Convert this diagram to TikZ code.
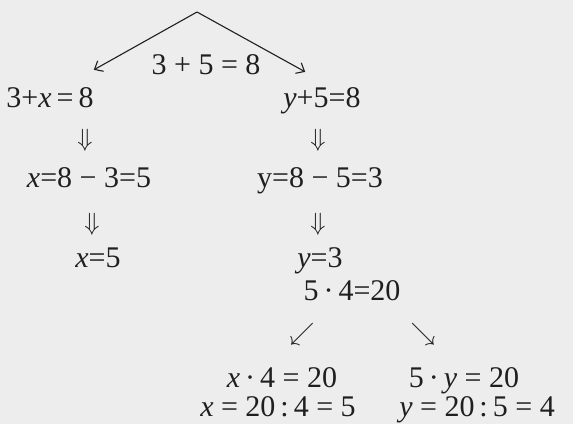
\documentclass[tikz,border=0pt]{standalone}
\usepackage{fontspec}
\setmainfont{Liberation Serif}
\usetikzlibrary{arrows.meta}

\begin{document}
\begin{tikzpicture}[x=1pt, y=-1pt, >={Straight Barb[length=7pt,width=12pt]},
    eq/.style={anchor=base, inner sep=0pt, text=black!88, font=\fontsize{30}{36}\selectfont},
    sym/.style={inner sep=0pt, text=black!88, font=\fontsize{28}{32}\selectfont},
    branch/.style={->, line width=1.1pt, draw=black!88}]

    % page
    \fill[black!7] (0,0) rectangle (573,424);
    \useasboundingbox (0,0) rectangle (573,424);

    \coordinate (apex) at (197,12);
    \node [eq] (sum) at (206,74) {3 + 5 = 8};

    % left branch
    \node [eq] (eqLa) at (50,107) {3+\textit{x}\,=\,8};
    \node [sym] (dnLa) at (85,140) {$\Downarrow$};
    \node [eq] (eqLb) at (89,187) {\textit{x}=8 − 3=5};
    \node [sym] (dnLb) at (92,224) {$\Downarrow$};
    \node [eq] (eqLc) at (98,267) {\textit{x}=5};

    % right branch
    \node [eq] (eqRa) at (322,107) {\textit{y}+5=8};
    \node [sym] (dnRa) at (318,140) {$\Downarrow$};
    \node [eq] (eqRb) at (320,187) {y=8 − 5=3};
    \node [sym] (dnRb) at (318,224) {$\Downarrow$};
    \node [eq] (eqRc) at (320,267) {\textit{y}=3};

    % product
    \node [eq] (prod) at (352,300) {5\,·\,4=20};
    \node [sym] (swL) at (302,334) {$\swarrow$};
    \node [sym] (seR) at (423,334) {$\searrow$};
    \node [eq] (eqLd) at (282,387) {\textit{x}\,·\,4 = 20};
    \node [eq] (eqRd) at (464,387) {5\,·\,\textit{y} = 20};
    \node [eq] (eqLe) at (278,416) {\textit{x} = 20\,:\,4 = 5};
    \node [eq] (eqRe) at (477,416) {\textit{y} = 20\,:\,5 = 4};

    \draw [branch] (apex) -- ([yshift=17pt]eqLa.north east);
    \draw [branch] (apex) -- ([shift={(22pt,15pt)}]eqRa.north west);
\end{tikzpicture}
\end{document}
